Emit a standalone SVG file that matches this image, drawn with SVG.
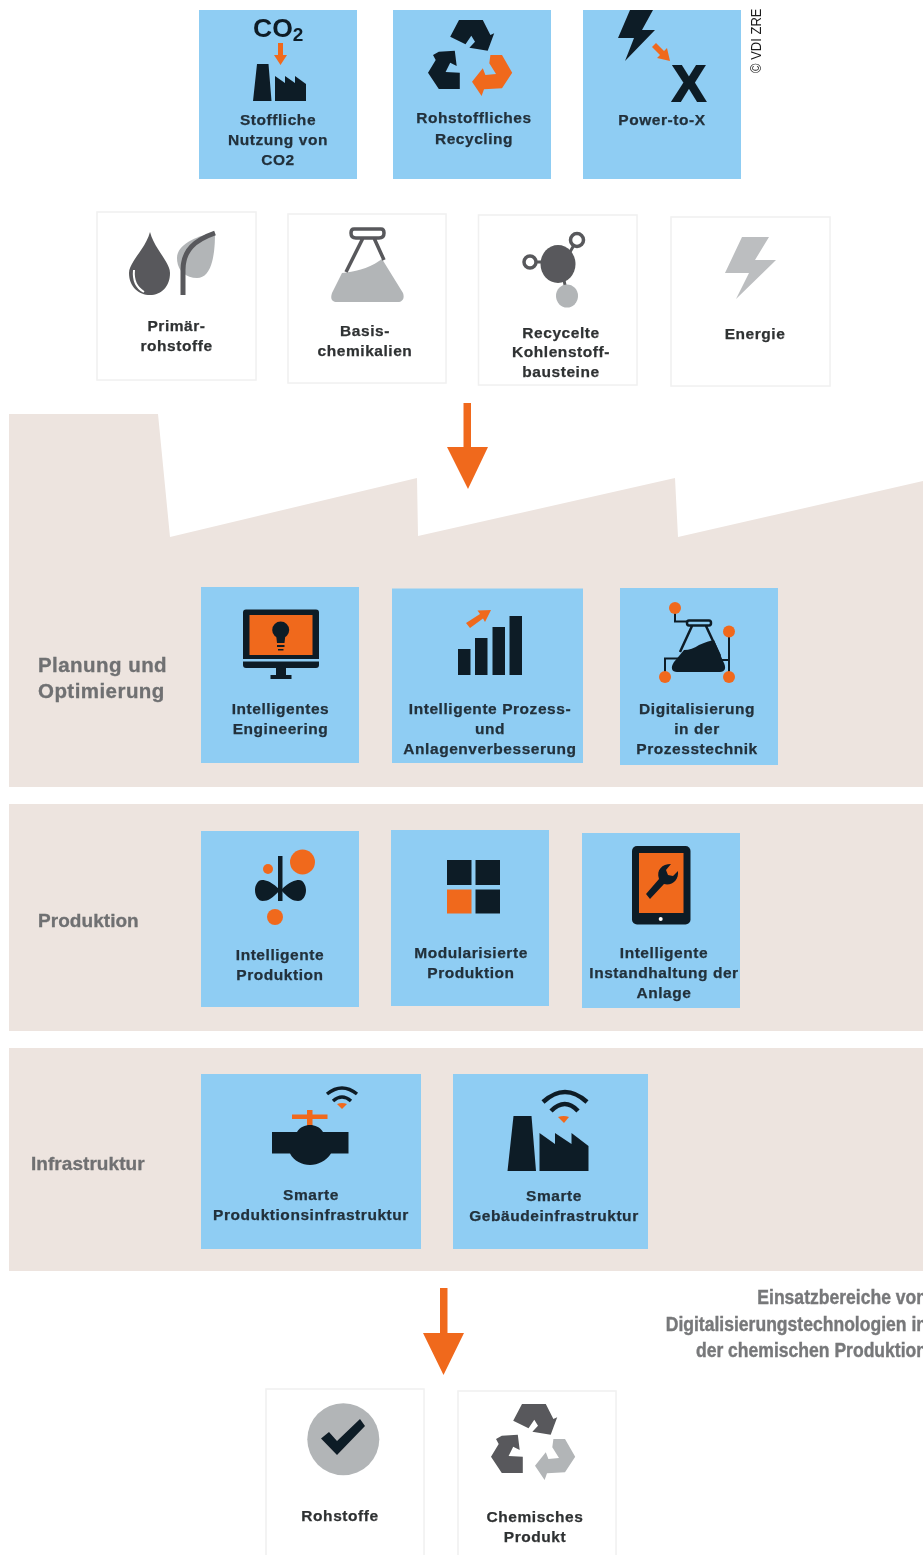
<svg xmlns="http://www.w3.org/2000/svg" width="923" height="1555" viewBox="0 0 923 1555">
<style>
text{font-family:"Liberation Sans",Arial,sans-serif;font-weight:700}
.t{font-size:15.500px;letter-spacing:.55px;text-anchor:middle;fill:#22303b;stroke:#22303b;stroke-width:.25px}
.c{font-size:15.500px;letter-spacing:.55px;text-anchor:middle;fill:#2f3133;stroke:#2f3133;stroke-width:.25px}
.l{font-size:20.500px;letter-spacing:.45px;fill:#6f7072;stroke:#6f7072;stroke-width:.3px}
.s{font-size:19px;letter-spacing:.05px;fill:#6f7072;stroke:#6f7072;stroke-width:.3px}
.cap{font-size:19.500px;fill:#77787a;stroke:#77787a;stroke-width:.4px;text-anchor:end}
.b{fill:#8fcdf3}.w{fill:#fff;stroke:#f0f0f0;stroke-width:1.500}.bg{fill:#ede4df}
.k{fill:#111c26}.o{fill:#f0691f}.dg{fill:#58595b}.lg{fill:#b2b5b7}
.ks{fill:none;stroke:#111c26}
</style>
<defs>
<filter id="soft" filterUnits="userSpaceOnUse" x="0" y="0" width="923" height="1555"><feGaussianBlur stdDeviation="0.4"/></filter>
<path id="r1" d="M450.200 36.700L459 20H482.800L490.400 35 494.200 33.300 487.700 50.700 469.400 47.700 475 41.700 471.300 35.700 465.500 44.300Z"/>
<path id="r2" d="M433 55L438.800 51.700 454.800 50.700 456.700 66 450.200 62.700 445.600 72 459.800 72.700V89H438.800L428 72.700 435.700 60Z"/>
<path id="r3" d="M490.400 55H502L512.200 72.700 502 88.300 484 89.300 481.600 96 472 81.700 482.800 68.300 485.400 75 496 74 489.300 63.300Z"/>
</defs>
<g filter="url(#soft)">
<g id="background">
<path class="bg" d="M9 414H158L170 537 417 478 418 536 675 478 678 537 923 481V787H9Z"/>
<rect class="bg" x="9" y="804" width="914" height="227"/>
<rect class="bg" x="9" y="1048" width="914" height="223"/>
</g>
<g id="connectors">
<path class="o" d="M463.500 403H471V447H488L468 489 447 447H463.500Z"/>
<path class="o" d="M440 1288H447.500V1333H464L443.500 1375 423 1333H440Z"/>
</g>
<g id="stoffliche-nutzung"><rect class="b" x="199" y="10" width="158" height="169"/>
<text x="253" y="36.500" font-size="26.500" fill="#111c26">CO<tspan font-size="19" dy="4.500">2</tspan></text>
<path class="o" d="M278 43H283V55H287L280.500 65 274 55H278Z"/>
<path class="k" d="M257 64H268.500L271.500 101H253ZM275 76L285 83V76L295 83V76L306 84V101H275Z"/>
<text class="t" x="278" y="125">Stoffliche</text><text class="t" x="278" y="145">Nutzung von</text><text class="t" x="278" y="165">CO2</text></g>
<g id="rohstoffliches-recycling"><rect class="b" x="393" y="10" width="158" height="169"/>
<use href="#r1" class="k"/><use href="#r2" class="k"/><use href="#r3" class="o"/>
<text class="t" x="474" y="123">Rohstoffliches</text><text class="t" x="474" y="143.500">Recycling</text></g>
<g id="power-to-x"><rect class="b" x="583" y="10" width="158" height="169"/>
<path class="k" d="M630 10H653L642 30H655L625 61 634 38H618Z"/>
<path class="o" d="M652 47L656 43 664 51 667 48 670 61 657 58 660 55Z"/>
<text x="689" y="100.500" font-size="50" text-anchor="middle" fill="#111c26" stroke="#111c26" stroke-width="2">X</text>
<text class="t" x="662" y="125">Power-to-X</text></g>
<text id="copyright" transform="translate(761 73) rotate(-90) scale(.93 1)" style="font-weight:400;font-size:14px;fill:#1a1a1a">© VDI ZRE</text>
<g id="primaerrohstoffe"><rect class="w" x="97" y="212" width="159" height="168"/>
<path class="dg" d="M150 232C145 250 129 262 129 273 129 287 139 295 150 295 161 295 170 287 170 273 170 262 155 250 150 232Z"/>
<path d="M134 270C133 280 137 288 144 292" fill="none" stroke="#fff" stroke-width="2"/>
<path class="lg" d="M215 233C195 236 177 245 177 258 177 270 185 278 197 278 210 278 215 260 215 233Z"/>
<path d="M183 295V270C183 250 195 240 215 233" fill="none" stroke="#58595b" stroke-width="5"/>
<text class="c" x="176.500" y="331">Primär-</text><text class="c" x="176.500" y="351">rohstoffe</text></g>
<g id="basischemikalien"><rect class="w" x="288" y="214" width="158" height="169"/>
<path class="lg" d="M342 273C355 272 370 268 382 259L403 293C405 299 402 302 398 302H337C332 302 330 299 332 293Z"/>
<path d="M354 229H381Q384 229 384 233 384 238 379 238H356Q351 238 351 233 351 229 354 229ZM363 238L346 272M374 238L384 260" fill="none" stroke="#58595b" stroke-width="3.500"/>
<text class="c" x="365" y="335.500">Basis-</text><text class="c" x="365" y="355.500">chemikalien</text></g>
<g id="kohlenstoffbausteine"><rect class="w" x="478.500" y="215" width="158.500" height="170"/>
<path d="M535 262H545M570 252L574 245M564 280L566 290" stroke="#58595b" stroke-width="3" fill="none"/>
<ellipse class="dg" cx="558" cy="264" rx="17.500" ry="19"/>
<circle cx="577" cy="240" r="6.500" fill="#fff" stroke="#58595b" stroke-width="3.500"/>
<circle cx="530" cy="262" r="6" fill="#fff" stroke="#58595b" stroke-width="3.500"/>
<ellipse class="lg" cx="567" cy="296" rx="11" ry="11.500"/>
<text class="c" x="561" y="337.500">Recycelte</text><text class="c" x="561" y="357">Kohlenstoff-</text><text class="c" x="561" y="377">bausteine</text></g>
<g id="energie"><rect class="w" x="671" y="217" width="159" height="169"/>
<path d="M742 237H769L755 260H776L736 299 749 273H725Z" fill="#bcbec0"/>
<text class="c" x="755" y="339">Energie</text></g>
<g id="planung-label"><text class="l" x="38" y="672">Planung und</text><text class="l" x="38" y="698">Optimierung</text></g>
<g id="intelligentes-engineering"><rect class="b" x="201" y="587" width="158" height="176"/>
<rect class="k" x="243" y="609.500" width="76" height="58.500" rx="3"/>
<rect class="o" x="249.500" y="615" width="63" height="40"/>
<rect class="b" x="243" y="659" width="76" height="2.500"/>
<path class="k" d="M276 668H286V675H291.500V679H270.500V675H276Z"/>
<circle class="k" cx="280.700" cy="630" r="8.500"/>
<path class="k" d="M276 634H285.500L284.500 643H277ZM277 645H284.500V647H277ZM278 649H283.500V650.500H278Z"/>
<text class="t" x="280.500" y="714">Intelligentes</text><text class="t" x="280.500" y="734">Engineering</text></g>
<g id="anlagenverbesserung"><rect class="b" x="392" y="588.500" width="191" height="174.500"/>
<path class="k" d="M458 649H470.500V675H458ZM475 638H487.500V675H475ZM492.500 627H505V675H492.500ZM509.500 616H522V675H509.500Z"/>
<path class="o" d="M466 623L480 614 477.500 610.500 491 610 485 622 483 618.500 470 628Z"/>
<text class="t" x="490" y="714">Intelligente Prozess-</text><text class="t" x="490" y="734">und</text><text class="t" x="490" y="754">Anlagenverbesserung</text></g>
<g id="digitalisierung"><rect class="b" x="620" y="588" width="158" height="177"/>
<path class="ks" stroke-width="2" d="M675 608V621.500H688M729 632V677M719 660H729M665 677V658.500H682"/>
<path class="k" d="M684 650Q692 650 699 645 708 641 714 640L723 661C727 668 725 672 720 672H677C672 672 670 668 674 662Z"/>
<path class="ks" stroke-width="2.500" d="M689 620.500H709Q711 620.500 711 623 711 625.500 709 625.500H689Q687 625.500 687 623 687 620.500 689 620.500ZM692 626L680 652M706 626L720 656"/>
<circle class="o" cx="675" cy="608" r="6"/><circle class="o" cx="729" cy="631.500" r="6"/><circle class="o" cx="665" cy="677" r="6"/><circle class="o" cx="729" cy="677" r="6"/>
<text class="t" x="697" y="714">Digitalisierung</text><text class="t" x="697" y="734">in der</text><text class="t" x="697" y="754">Prozesstechnik</text></g>
<g id="produktion-label"><text class="s" x="38" y="927">Produktion</text></g>
<g id="intelligente-produktion"><rect class="b" x="201" y="831" width="158" height="176"/>
<rect class="k" x="278" y="856" width="4.500" height="45"/>
<path class="k" d="M280 890C272 882 266 880 262 880 258 880 255 885 255 890 255 896 258 901 263 901 268 901 273 898 280 890ZM281 890C289 882 295 880 299 880 303 880 306 885 306 890 306 896 303 901 298 901 293 901 288 898 281 890Z"/>
<circle class="o" cx="302.500" cy="862" r="12.500"/><circle class="o" cx="268" cy="869" r="5"/><circle class="o" cx="275" cy="917" r="8"/>
<text class="t" x="280" y="960">Intelligente</text><text class="t" x="280" y="980">Produktion</text></g>
<g id="modularisierte-produktion"><rect class="b" x="391" y="830" width="158" height="176"/>
<rect class="k" x="447" y="860" width="24.500" height="25"/><rect class="k" x="475.500" y="860" width="24.500" height="25"/>
<rect class="o" x="447" y="889.500" width="24.500" height="24"/><rect class="k" x="475.500" y="889.500" width="24.500" height="24"/>
<text class="t" x="471" y="957.500">Modularisierte</text><text class="t" x="471" y="977.500">Produktion</text></g>
<g id="instandhaltung"><rect class="b" x="582" y="833" width="158" height="175"/>
<rect class="k" x="632" y="846" width="58.500" height="78.500" rx="5"/>
<rect class="o" x="639" y="853" width="44.500" height="60"/>
<circle cx="660.700" cy="919" r="2" fill="#fff"/>
<path class="k" d="M646 894L659 879C656 870 662 864 671 864L666 870 668 875 673 876 678 871C679 880 672 886 664 884L650 899Z"/>
<text class="t" x="664" y="958">Intelligente</text><text class="t" x="664" y="978">Instandhaltung der</text><text class="t" x="664" y="998">Anlage</text></g>
<g id="infrastruktur-label"><text class="s" x="31" y="1170">Infrastruktur</text></g>
<g id="produktionsinfrastruktur"><rect class="b" x="201" y="1074" width="220" height="175"/>
<rect class="o" x="292" y="1114.500" width="35.500" height="4.500"/><rect class="o" x="307" y="1110" width="5.500" height="16"/>
<path class="k" d="M272 1132H297C300 1127 305 1125 310 1125 315 1125 320 1127 323 1132H348.500V1153.500H331C326 1161 318 1165 310 1165 302 1165 294 1161 290 1153.500H272Z"/>
<path class="ks" stroke-width="3.500" d="M327 1094Q342 1082 357 1094M333 1101Q342 1093 351 1101"/>
<path class="o" d="M337 1104Q342 1102 347 1104L342 1109Z"/>
<text class="t" x="311" y="1200">Smarte</text><text class="t" x="311" y="1220">Produktionsinfrastruktur</text></g>
<g id="gebaeudeinfrastruktur"><rect class="b" x="453" y="1074" width="195" height="175"/>
<path class="ks" stroke-width="4.500" d="M543 1102Q565 1082 587 1102M551 1111Q565 1097 578 1111"/>
<path class="o" d="M558 1117Q564 1115 569 1117L564 1123Z"/>
<path class="k" d="M513.500 1116H531.500L536 1171H507.500ZM539.500 1133L555 1144V1133L571.500 1144V1133L588.500 1146V1171H539.500Z"/>
<text class="t" x="554" y="1201">Smarte</text><text class="t" x="554" y="1221">Gebäudeinfrastruktur</text></g>
<g id="caption">
<text class="cap" transform="translate(927 1303.500) scale(.9 1)">Einsatzbereiche von</text>
<text class="cap" transform="translate(927 1330.500) scale(.9 1)">Digitalisierungstechnologien in</text>
<text class="cap" transform="translate(927 1357) scale(.9 1)">der chemischen Produktion</text></g>
<g id="rohstoffe"><rect class="w" x="266" y="1389" width="158" height="170"/>
<circle class="lg" cx="343.300" cy="1439.300" r="36"/>
<path class="k" d="M321 1438.500L329 1432 337 1441 360 1419 365 1426 337 1455Z"/>
<text class="c" x="340" y="1521">Rohstoffe</text></g>
<g id="chemisches-produkt"><rect class="w" x="458" y="1391" width="158" height="168"/>
<g transform="translate(63 1384)"><use href="#r1" class="dg"/><use href="#r2" class="dg"/><use href="#r3" class="lg"/></g>
<text class="c" x="535" y="1522">Chemisches</text><text class="c" x="535" y="1542">Produkt</text></g>
</g>
</svg>
